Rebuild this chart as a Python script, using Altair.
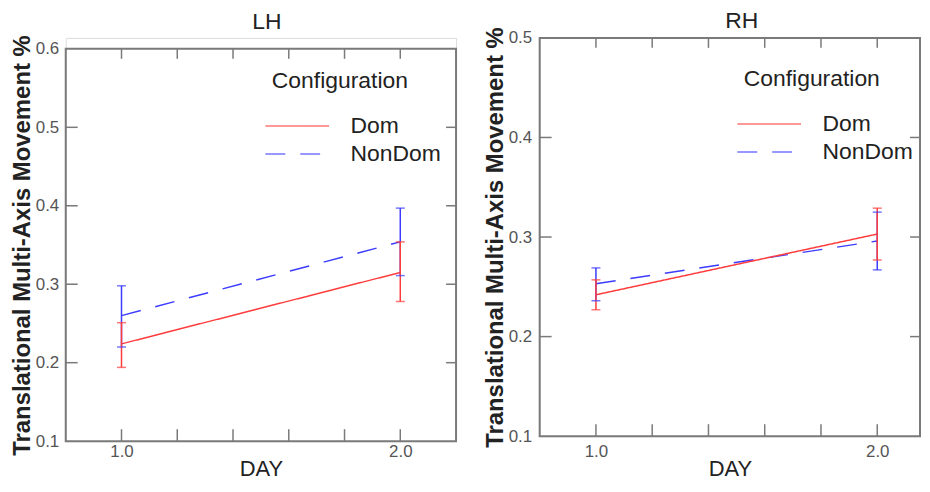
import altair as alt
import pandas as pd

# ---------------- data ----------------
configs = ["Dom", "NonDom"]
days = [1.0, 2.0]

# LH panel
lh_dom_mean = [0.224, 0.315]
lh_dom_lo = [0.194, 0.278]
lh_dom_hi = [0.251, 0.354]
lh_non_mean = [0.260, 0.354]
lh_non_lo = [0.220, 0.311]
lh_non_hi = [0.298, 0.397]

# RH panel
rh_dom_mean = [0.242, 0.303]
rh_dom_lo = [0.227, 0.277]
rh_dom_hi = [0.257, 0.329]
rh_non_mean = [0.253, 0.296]
rh_non_lo = [0.236, 0.267]
rh_non_hi = [0.269, 0.325]

x_minor_ticks = [1.0, 1.2, 1.4, 1.6, 1.8, 2.0]
x_labels = [1.0, 2.0]
lh_y_labels = [0.1, 0.2, 0.3, 0.4, 0.5, 0.6]
lh_y_inner = [0.2, 0.3, 0.4, 0.5]
rh_y_labels = [0.1, 0.2, 0.3, 0.4, 0.5]
rh_y_inner = [0.2, 0.3, 0.4]

RED = "#ff3c3c"
BLUE = "#3c3cff"
FRAME = "#7a7a7a"
FONT = "Liberation Sans"
YTITLE = "Translational Multi-Axis Movement %"
LEGEND_LINE = "M-1.8,0H4.6"   # long horizontal stroke symbol


def make_df(dm, dl, dh, nm, nl, nh):
    rows = []
    # NonDom first so Dom is drawn on top
    for i, d in enumerate(days):
        rows.append({"Day": d, "Configuration": "NonDom", "mean": nm[i], "lo": nl[i], "hi": nh[i]})
    for i, d in enumerate(days):
        rows.append({"Day": d, "Configuration": "Dom", "mean": dm[i], "lo": dl[i], "hi": dh[i]})
    return pd.DataFrame(rows)


def panel(df, title, title_dx, title_offset, ydom, y_labels, y_inner, width, height, top_gap,
          xdom, leg_x, leg_y, x_label_pad, x_title_pad, y_label_pad):
    xs = alt.Scale(domain=xdom, nice=False, zero=False)
    ys = alt.Scale(domain=ydom, nice=False, zero=False, range=[height, top_gap])
    x_axis = alt.Axis(title="DAY", values=x_labels, format=".1f", ticks=False, grid=False,
                      domain=False, labelFontSize=17, labelFont=FONT, labelColor="#555",
                      labelPadding=x_label_pad, titleFontSize=22, titleFont=FONT,
                      titleFontWeight="normal", titleColor="#222", titlePadding=x_title_pad,
                      labelFlush=False)
    y_axis = alt.Axis(title=YTITLE, values=y_labels, format=".1f", ticks=False, grid=False,
                      domain=False, labelFontSize=17, labelFont=FONT, labelColor="#555",
                      labelPadding=y_label_pad, titleFontSize=24, titleFont=FONT,
                      titleFontWeight="bold", titleColor="#222", titlePadding=1,
                      labelFlush=False, labelOverlap=False)
    legend = alt.Legend(
        title="Configuration", orient="none", legendX=leg_x, legendY=leg_y,
        titleFontSize=23, titleFont=FONT, titleFontWeight="normal", titleColor="#222",
        labelFontSize=23, labelFont=FONT, labelColor="#222", labelOffset=56,
        symbolType=LEGEND_LINE, symbolSize=400, symbolStrokeWidth=1.5,
        titlePadding=22, rowPadding=4,
    )
    color = alt.Color("Configuration:N", scale=alt.Scale(domain=configs, range=[RED, BLUE]),
                      legend=legend)
    dash = alt.StrokeDash("Configuration:N",
                          scale=alt.Scale(domain=configs, range=[[1, 0], [20, 15]]),
                          legend=legend)
    X = lambda f: alt.X(f, scale=xs, axis=x_axis)
    Y = lambda f: alt.Y(f, scale=ys, axis=y_axis)

    base = alt.Chart(df)
    line = base.mark_line(strokeWidth=1.5).encode(
        x=X("Day:Q"), y=Y("mean:Q"), color=color, strokeDash=dash)
    rule = base.mark_rule(strokeWidth=1.5).encode(
        x=X("Day:Q"), y=Y("lo:Q"), y2="hi:Q", color=color)
    caps = base.transform_fold(["lo", "hi"], as_=["which", "v"]).mark_tick(
        orient="horizontal", size=9, thickness=1.5).encode(
        x=X("Day:Q"), y=Y("v:Q"), color=color)

    # plot frame, drawn through the scales at the domain limits
    frame_df = pd.DataFrame({"x0": [xdom[0]], "x1": [xdom[1]], "y0": [ydom[0]], "y1": [ydom[1]]})
    frame = alt.Chart(frame_df).mark_rect(
        fillOpacity=0, stroke=FRAME, strokeWidth=2).encode(
        x=X("x0:Q"), x2="x1:Q", y=Y("y0:Q"), y2="y1:Q")

    # inner ticks
    xt = alt.Chart(pd.DataFrame({"t": x_minor_ticks, "lo": ydom[0], "hi": ydom[1]}))
    xb = xt.mark_rule(color=FRAME, strokeWidth=1.5, y2Offset=-12).encode(
        x=X("t:Q"), y=Y("lo:Q"), y2="lo:Q")
    xtop = xt.mark_rule(color=FRAME, strokeWidth=1.5, y2Offset=10).encode(
        x=X("t:Q"), y=Y("hi:Q"), y2="hi:Q")
    yt = alt.Chart(pd.DataFrame({"t": y_inner, "lo": xdom[0], "hi": xdom[1]}))
    yl = yt.mark_rule(color=FRAME, strokeWidth=1.5, x2Offset=12).encode(
        y=Y("t:Q"), x=X("lo:Q"), x2="lo:Q")
    yr = yt.mark_rule(color=FRAME, strokeWidth=1.5, x2Offset=-10).encode(
        y=Y("t:Q"), x=X("hi:Q"), x2="hi:Q")

    return alt.layer(line, rule, caps, frame, xb, xtop, yl, yr).properties(
        width=width, height=height,
        title=alt.TitleParams(title, fontSize=23, font=FONT, fontWeight="normal", color="#222",
                              offset=title_offset, dx=title_dx),
    )


lh_df = make_df(lh_dom_mean, lh_dom_lo, lh_dom_hi, lh_non_mean, lh_non_lo, lh_non_hi)
rh_df = make_df(rh_dom_mean, rh_dom_lo, rh_dom_hi, rh_non_mean, rh_non_lo, rh_non_hi)

left = panel(lh_df, "LH", 6, 1, [0.1, 0.6], lh_y_labels, lh_y_inner, 392, 405, 11,
             [0.8, 2.2], 207, 32, 2, 0, 7)
right = panel(rh_df, "RH", 12, -6, [0.1, 0.5], rh_y_labels, rh_y_inner, 382, 400, 0,
              [0.8, 2.152], 205, 30, 7, 0, 8)

chart = alt.hconcat(left, right, spacing=24).resolve_scale(
    color="independent", strokeDash="independent"
).resolve_legend(color="independent", strokeDash="independent").properties(
    padding={"left": 1, "top": 0, "right": 0, "bottom": 0}
).configure_view(stroke="transparent").configure(background="white")

chart.save("out.html", embed_options={"renderer": "svg", "actions": False})
